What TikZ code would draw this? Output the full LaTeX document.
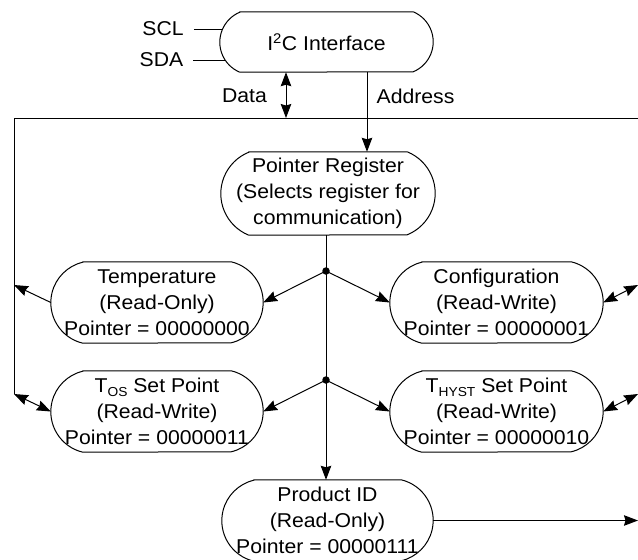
\documentclass[tikz,border=0pt]{standalone}
\usepackage{fontspec}
\setmainfont{Liberation Sans}[FakeStretch=1.06]
\usetikzlibrary{arrows.meta}
\tikzset{
  reg/.style={rectangle, draw=none, inner sep=0pt, align=center, minimum width=#1, minimum height=81},
  reg/.default=212,
  outline/.style={draw=black, line width=1pt},
  conn/.style={draw=black, line width=1pt},
  tip/.tip={Stealth[length=14pt, width=10.5pt, inset=1.5pt]},
  lbl/.style={inner sep=0pt},
  dot/.style={circle, fill=black, inner sep=0pt, minimum size=7.5pt},
}
\newcommand\stadout[3]{% node name, height, sagitta
  \pgfmathsetmacro\rr{(#3*#3+(#2/2)*(#2/2))/(2*#3)}%
  \pgfmathsetmacro\ph{atan2(#2/2,\rr-#3)}%
  \draw[outline] ([xshift=#3pt]#1.north west) -- ([xshift=-#3pt]#1.north east)
    arc[start angle=-\ph, end angle=\ph, radius=\rr]
    -- ([xshift=#3pt]#1.south west)
    arc[start angle=180-\ph, end angle=180+\ph, radius=\rr] -- cycle;
}
\begin{document}
\begin{tikzpicture}[x=1pt, y=-1pt, font=\fontsize{20}{26}\selectfont]
\useasboundingbox (0,0) rectangle (638,560);
% nodes
\node[reg=213, minimum height=60] (i2c) at (326.5,42) {I\textsuperscript{2}C Interface};
\node[reg=214, minimum height=83] (ptr) at (328,193.5) {Pointer Register\\(Selects register for\\communication)};
\node[reg] (temp) at (157,302.5) {Temperature\\(Read-Only)\\Pointer = 00000000};
\node[reg=213] (conf) at (496.5,302.5) {Configuration\\(Read-Write)\\Pointer = 00000001};
\node[reg] (tos) at (157,411.5) {T\raisebox{-4pt}{\fontsize{13}{13}\selectfont OS} Set Point\\(Read-Write)\\Pointer = 00000011};
\node[reg=213] (thyst) at (496.5,411.5) {T\raisebox{-4pt}{\fontsize{13}{13}\selectfont HYST} Set Point\\(Read-Write)\\Pointer = 00000010};
\node[reg=211] (pid) at (327.5,520.5) {Product ID\\(Read-Only)\\Pointer = 00000111};
\stadout{i2c}{60}{20}
\stadout{ptr}{83}{28}
\stadout{temp}{81}{32}
\stadout{conf}{81}{32}
\stadout{tos}{81}{32}
\stadout{thyst}{81}{32}
\stadout{pid}{81}{32}
% labels
\node[lbl, inner xsep=10pt] (scl) at (163,29) {SCL};
\node[lbl, inner xsep=10pt] (sda) at (161.5,60) {SDA};
\node[lbl] (data) at (244.5,96) {Data};
\node[lbl] (addr) at (415.5,96) {Address};
% coordinates
\coordinate (sclend) at (222.7,29);
\coordinate (sdaend) at (225.4,60);
\coordinate (tl) at (14,118);
\coordinate (tr) at (638,118);
\coordinate (bl) at (14,394);
\coordinate (lb1) at (14,285);
\coordinate (rb1) at (638,285);
\coordinate (rb2) at (638,394);
\coordinate (rpid) at (638,520.5);
\coordinate (dx) at (286,0);
\coordinate (ax) at (367,0);
\node[dot] (d1) at (326,271) {};
\node[dot] (d2) at (326,380) {};
% connectors
\draw[conn] (scl.east) -- (sclend);
\draw[conn] (sda.east) -- (sdaend);
\draw[conn, tip-tip] (i2c.south -| dx) -- (tl -| dx);
\draw[conn, -tip] (i2c.south -| ax) -- (ptr.north -| ax);
\draw[conn] (tr) -- (tl) -- (bl);
\draw[conn, -tip] (ptr.south -| d1) -- (pid.north -| d1);
\draw[conn, -tip] (d1.center) -- (temp.east);
\draw[conn, -tip] (d1.center) -- (conf.west);
\draw[conn, -tip] (d2.center) -- (tos.east);
\draw[conn, -tip] (d2.center) -- (thyst.west);
\draw[conn, -tip] (temp.west) -- (lb1);
\draw[conn, tip-tip] (tos.west) -- (bl);
\draw[conn, tip-tip] (conf.east) -- (rb1);
\draw[conn, tip-tip] (thyst.east) -- (rb2);
\draw[conn, -tip] (pid.east) -- (rpid);
\end{tikzpicture}
\end{document}
